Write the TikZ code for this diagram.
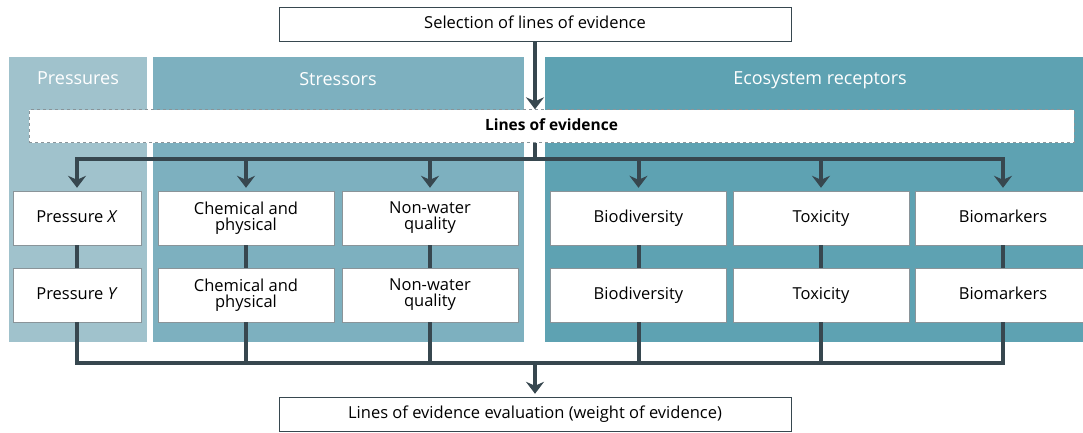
\documentclass[tikz,border=0pt]{standalone}
\usepackage{fontspec}
\setmainfont{Open Sans}
\usetikzlibrary{arrows.meta}
\definecolor{presscol}{HTML}{A0C2CC}
\definecolor{strescol}{HTML}{7DB0BF}
\definecolor{ecocol}{HTML}{5EA2B2}
\definecolor{linecol}{HTML}{37474F}
\definecolor{edgecol}{HTML}{8A9499}
\newcommand{\boxstrut}{\rule[-3pt]{0pt}{14pt}}

\begin{document}
\begin{tikzpicture}[x=1pt, y=-1pt,
  box/.style={draw=edgecol, fill=white, minimum width=176pt, minimum height=54pt, inner sep=0pt, align=center, font=\fontsize{16.5}{16}\selectfont, execute at begin node=\boxstrut},
  wide/.style={draw=linecol, fill=white, minimum width=512pt, minimum height=34pt, inner sep=0pt, font=\fontsize{16.5}{16}\selectfont, execute at begin node=\boxstrut},
  loebox/.style={draw=edgecol, dashed, fill=white, minimum width=1045pt, minimum height=33pt, inner sep=0pt, font=\fontsize{15.5}{16}\selectfont\bfseries, execute at begin node=\boxstrut},
  hdr/.style={text=white, font=\fontsize{18}{18}\selectfont, execute at begin node=\boxstrut},
  link/.style={draw=linecol, line width=4pt},
  flow/.style={link, -{Stealth[length=12pt, width=18pt, inset=4pt]}, shorten >=3pt}]
  \useasboundingbox (0,0) rectangle (1083,432);
  \fill[presscol] (9,57) rectangle (147,342);
  \fill[strescol] (153,57) rectangle (524,342);
  \fill[ecocol] (545,57) rectangle (1095,342);
  \node[hdr] (hp) at (78,80) {Pressures};
  \node[hdr] (hs) at (338,80) {Stressors};
  \node[hdr] (he) at (820,80) {Ecosystem receptors};
  \node[wide] (sel) at (535,24) {Selection of lines of evidence};
  \node[loebox] (loe) at (551.5,126) {Lines of evidence};
  \node[box, minimum width=128pt] (px) at (77,218) {Pressure \textit{X}};
  \node[box, minimum width=128pt] (py) at (77,295) {Pressure \textit{Y}};
  \node[box] (c1) at (246,218) {Chemical and\\physical};
  \node[box] (c2) at (246,295) {Chemical and\\physical};
  \node[box] (n1) at (430,218) {Non-water\\quality};
  \node[box] (n2) at (430,295) {Non-water\\quality};
  \node[box] (b1) at (638.5,218) {Biodiversity};
  \node[box] (b2) at (638.5,295) {Biodiversity};
  \node[box] (t1) at (821,218) {Toxicity};
  \node[box] (t2) at (821,295) {Toxicity};
  \node[box] (m1) at (1003,218) {Biomarkers};
  \node[box] (m2) at (1003,295) {Biomarkers};
  \node[wide] (eval) at (535,414) {Lines of evidence evaluation (weight of evidence)};
  \coordinate (split) at (535,159);
  \coordinate (join) at (535,363);
  \draw[flow, shorten >=0pt] (sel.south) -- (sel.south |- loe.north);
  \draw[link] (sel.south |- loe.south) -- (split);
  \foreach \n in {px,c1,n1,b1,t1,m1}
    \draw[flow] (split) -| (\n.north);
  \foreach \a/\b in {px/py,c1/c2,n1/n2,b1/b2,t1/t2,m1/m2}
    \draw[link] (\a) -- (\b);
  \foreach \n in {py,c2,n2,b2,t2,m2}
    \draw[link] (\n.south) |- (join);
  \draw[flow] (join) -- (eval.north);
\end{tikzpicture}
\end{document}
